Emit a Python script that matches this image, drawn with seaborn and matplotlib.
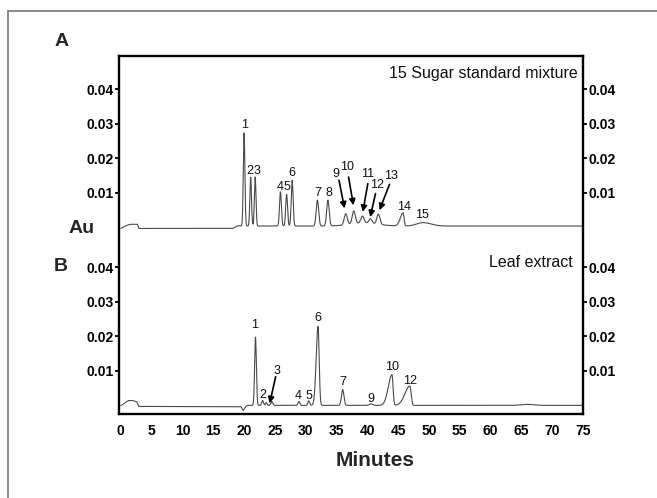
import numpy as np
import pandas as pd
import matplotlib
matplotlib.use("Agg")
import matplotlib.pyplot as plt
import seaborn as sns
from matplotlib.lines import Line2D

# ---------------- data ----------------
# Panel A: 15 sugar standard mixture (retention time in min, height in Au)
A_rt = [20.0, 21.07, 21.8, 25.9, 26.9, 27.8, 31.9, 33.6, 36.5, 37.8, 39.2, 40.5, 41.8, 45.8, 49.0]
A_h = [0.0270, 0.0141, 0.0142, 0.0099, 0.0092, 0.0133, 0.0075, 0.0075,
       0.0032, 0.0037, 0.0020, 0.0013, 0.0029, 0.0038, 0.0010]
A_sl = [0.13, 0.13, 0.13, 0.15, 0.15, 0.15, 0.2, 0.2, 0.25, 0.25, 0.25, 0.25, 0.25, 0.45, 1.0]
A_sr = [0.13, 0.13, 0.13, 0.15, 0.15, 0.15, 0.2, 0.2, 0.25, 0.25, 0.25, 0.25, 0.25, 0.15, 1.3]
A_hump = (39.5, 0.0009, 2.2)          # broad rise under peaks 9-13
A_base_t = [0.0, 0.8, 1.5, 2.7, 2.9, 18.2, 18.8, 19.3, 19.7, 20.0, 75.0]
A_base_y = [-0.0004, 0.0004, 0.0008, 0.0008, -0.0004, -0.0004, 0.0003, 0.0004, 0.0002, 0.0003, 0.0003]

A_lab = [str(i) for i in range(1, 16)]
A_lab_t = [20.0, 20.9, 22.15, 25.8, 26.95, 27.8, 32.0, 33.7, 34.95, 36.75, 40.1, 41.6, 43.9, 45.9, 48.8]
A_lab_y = [0.0297, 0.0164, 0.0164, 0.0116, 0.0116, 0.0157, 0.0099, 0.0099,
           0.0155, 0.0174, 0.0155, 0.0123, 0.0147, 0.0057, 0.0036]
A_arrow_tail = [(35.4, 0.0136), (36.95, 0.0145), (40.08, 0.0126), (41.33, 0.0097), (43.6, 0.0124)]
A_arrow_head = [(36.3, 0.0054), (37.75, 0.0063), (39.27, 0.0044), (40.47, 0.0029), (41.98, 0.0049)]

# Panel B: leaf extract
B_rt = [21.85, 23.0, 23.6, 24.5, 28.9, 30.5, 32.0, 36.0, 40.6, 44.0, 46.9, 66.0]
B_h = [0.0198, 0.0014, 0.0008, 0.0011, 0.0011, 0.0013, 0.0229, 0.0046, 0.0004, 0.0089, 0.0056, 0.0003]
B_sl = [0.14, 0.15, 0.12, 0.15, 0.15, 0.15, 0.3, 0.2, 0.3, 0.6, 0.8, 1.0]
B_sr = [0.14, 0.15, 0.12, 0.15, 0.15, 0.15, 0.18, 0.2, 0.3, 0.17, 0.2, 1.0]
B_base_t = [0.0, 1.2, 2.0, 2.6, 2.9, 19.5, 19.85, 20.3, 20.6, 75.0]
B_base_y = [-0.0001, 0.0014, 0.0014, 0.0010, -0.0003, -0.0004, -0.0015, -0.0003, 0.0, 0.0]

B_lab = ["1", "2", "3", "4", "5", "6", "7", "9", "10", "12"]
B_lab_t = [21.7, 23.06, 25.33, 28.85, 30.47, 31.98, 36.03, 40.63, 44.04, 47.0]
B_lab_y = [0.0233, 0.0030, 0.0101, 0.0028, 0.0028, 0.0253, 0.0069, 0.0018, 0.0111, 0.0072]
B_arrow_tail = [(25.12, 0.0083)]
B_arrow_head = [(24.15, 0.0006)]

y_tick_vals = [0.01, 0.02, 0.03, 0.04]
y_tick_labels = ["0.01", "0.02", "0.03", "0.04"]
x_tick_vals = list(range(0, 80, 5))
A_offset = 0.0517


def trace(t, rts, hs, sls, srs, bt, by):
    y = np.interp(t, bt, by)
    for rt, h, sl, sr in zip(rts, hs, sls, srs):
        s = np.where(t < rt, sl, sr)
        y = y + h * np.exp(-0.5 * ((t - rt) / s) ** 2)
    return y


t = np.linspace(0, 75, 6001)
yA = trace(t, A_rt, A_h, A_sl, A_sr, A_base_t, A_base_y)
yA = yA + A_hump[1] * np.exp(-0.5 * ((t - A_hump[0]) / A_hump[2]) ** 2)
yB = trace(t, B_rt, B_h, B_sl, B_sr, B_base_t, B_base_y)

df = pd.concat([
    pd.DataFrame({"Minutes": t, "Au": yA + A_offset, "panel": "A"}),
    pd.DataFrame({"Minutes": t, "Au": yB, "panel": "B"}),
])

# ---------------- drawing ----------------
sns.set_theme(style="white")
plt.rcParams["font.family"] = ["Liberation Sans", "DejaVu Sans"]

W, H = 657, 498
fig = plt.figure(figsize=(W / 100, H / 100), dpi=100)
ax = fig.add_axes([119 / W, 1 - 414 / H, (583 - 119) / W, (414 - 56) / H])

for p in ["A", "B"]:
    sns.lineplot(data=df[df.panel == p], x="Minutes", y="Au", ax=ax,
                 color="#4a4a4a", lw=0.8, estimator=None, sort=False)

ax.set_xlim(-0.3, 75)
ax.set_ylim(-0.0025, 0.1013)

yt = y_tick_vals + [v + A_offset for v in y_tick_vals]
ax.set_yticks(yt)
ax.set_yticklabels(y_tick_labels + y_tick_labels, fontweight="bold", fontsize=10)
ax.set_xticks(x_tick_vals)
ax.set_xticklabels([str(v) for v in x_tick_vals], fontweight="bold", fontsize=10)
ax.tick_params(axis="y", left=True, right=True, labelleft=True, labelright=True,
               direction="out", length=3, width=1.3, pad=1, colors="black")
ax.tick_params(axis="x", bottom=False, length=0, pad=7, colors="black")
ax.set_xlabel("")
ax.set_ylabel("")
for sp in ax.spines.values():
    sp.set_visible(True)
    sp.set_linewidth(1.7)
    sp.set_color("black")

# peak labels
for lab, x, y in zip(A_lab, A_lab_t, A_lab_y):
    ax.text(x, y + A_offset, lab, ha="center", va="center", fontsize=9, color="#111111")
for lab, x, y in zip(B_lab, B_lab_t, B_lab_y):
    ax.text(x, y, lab, ha="center", va="center", fontsize=9, color="#111111")

arrow_kw = dict(arrowstyle="-|>", color="black", lw=1.2, mutation_scale=9, shrinkA=0, shrinkB=0)
for (tx, ty), (hx, hy) in zip(A_arrow_tail, A_arrow_head):
    ax.annotate("", xy=(hx, hy + A_offset), xytext=(tx, ty + A_offset), arrowprops=arrow_kw)
for (tx, ty), (hx, hy) in zip(B_arrow_tail, B_arrow_head):
    ax.annotate("", xy=(hx, hy), xytext=(tx, ty), arrowprops=arrow_kw)

ax.text(74.1, 0.0963, "15 Sugar standard mixture", ha="right", va="center", fontsize=11.5, color="#111111")
ax.text(73.3, 0.0414, "Leaf extract", ha="right", va="center", fontsize=11.5, color="#111111")

# figure-level labels
fig.text(62 / W, 1 - 41 / H, "A", ha="center", va="center", fontsize=14, fontweight="bold")
fig.text(61 / W, 1 - 266.7 / H, "B", ha="center", va="center", fontsize=14, fontweight="bold")
fig.text(81.3 / W, 1 - 228.3 / H, "Au", ha="center", va="center", fontsize=14, fontweight="bold")
fig.text(375 / W, 1 - 460 / H, "Minutes", ha="center", va="center", fontsize=15, fontweight="bold")

# outer frame (left and top edges)
fig.add_artist(Line2D([8.3 / W, 8.3 / W], [0, 1 - 11 / H], transform=fig.transFigure,
                      color="#808080", lw=1.3))
fig.add_artist(Line2D([8.3 / W, 1], [1 - 11 / H, 1 - 11 / H], transform=fig.transFigure,
                      color="#808080", lw=1.3))

fig.savefig("out.png", dpi=100)
